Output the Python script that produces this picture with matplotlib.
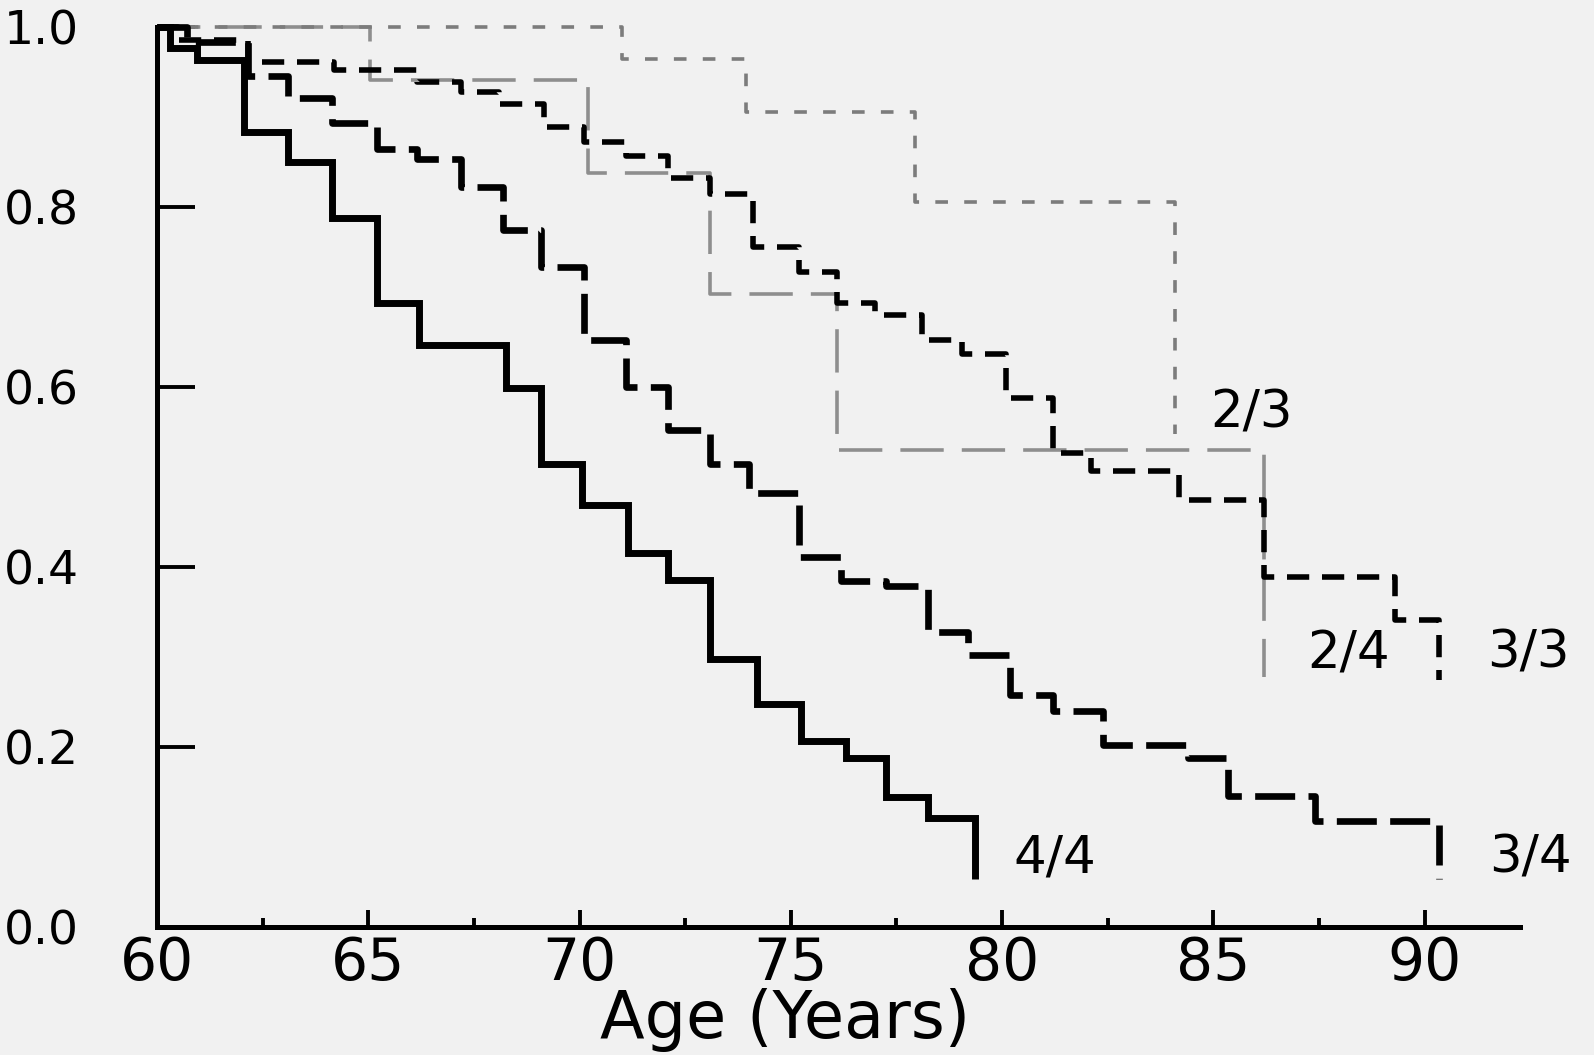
import numpy as np
import matplotlib
matplotlib.use("Agg")
import matplotlib.pyplot as plt
from matplotlib.ticker import MultipleLocator

# survival curves, (age at step, survival after step)
ages_44 = [60, 60.3, 60.95, 62.05, 63.1, 64.15, 65.2, 66.2, 68.25, 69.1, 70.05,
           71.15, 72.1, 73.1, 74.2, 75.25, 76.3, 77.25, 78.25, 79.35]
surv_44 = [1.0, 0.977, 0.963, 0.883, 0.850, 0.788, 0.693, 0.647, 0.599, 0.514, 0.469,
           0.416, 0.386, 0.298, 0.248, 0.207, 0.188, 0.144, 0.121, 0.053]

ages_34 = [60, 60.7, 62.15, 63.1, 64.15, 65.2, 66.15, 67.2, 68.2, 69.1, 70.1, 71.1,
           72.1, 73.1, 74.0, 75.2, 76.2, 77.25, 78.25, 79.2, 80.2, 81.2, 82.4, 84.4,
           85.35, 87.4, 90.35]
surv_34 = [1.0, 0.983, 0.946, 0.921, 0.893, 0.865, 0.853, 0.822, 0.774, 0.733, 0.652,
           0.600, 0.552, 0.515, 0.482, 0.411, 0.385, 0.379, 0.328, 0.302, 0.258, 0.240,
           0.202, 0.188, 0.146, 0.118, 0.053]

ages_33 = [60, 60.5, 62.15, 64.2, 66.15, 67.2, 68.1, 69.15, 70.1, 71.1, 72.1, 73.1,
           74.1, 75.2, 76.1, 77.0, 78.1, 79.05, 80.1, 81.2, 82.1, 84.2, 86.2, 89.3, 90.35]
surv_33 = [1.0, 0.986, 0.961, 0.952, 0.939, 0.928, 0.915, 0.889, 0.872, 0.857, 0.832,
           0.815, 0.756, 0.728, 0.693, 0.680, 0.652, 0.637, 0.588, 0.527, 0.507, 0.474,
           0.389, 0.341, 0.274]

ages_23 = [60, 71.0, 73.95, 77.95, 84.1]
surv_23 = [1.0, 0.965, 0.906, 0.806, 0.548]

ages_24 = [60, 65.05, 70.2, 73.1, 76.1, 86.2]
surv_24 = [1.0, 0.941, 0.838, 0.703, 0.530, 0.278]

# labels: text, x, y
curve_labels = [("2/3", 85.9, 0.570), ("2/4", 88.2, 0.303), ("3/3", 92.45, 0.304),
                ("4/4", 81.25, 0.076), ("3/4", 92.5, 0.076)]

bg = "#f1f1f1"
plt.rcParams['font.family'] = ['DejaVu Sans']

fig = plt.figure(figsize=(15.94, 10.55), dpi=100, facecolor=bg)
ax = fig.add_axes([157 / 1594, 128 / 1055, 1363 / 1594, 900 / 1055], facecolor=bg)

ax.step(ages_24, surv_24, where='post', color='#8e8e8e', lw=2.6,
        linestyle=(0, (12, 5)), clip_on=False, zorder=2)
ax.step(ages_23, surv_23, where='post', color='#7c7c7c', lw=2.6,
        linestyle=(0, (3.5, 4.5)), clip_on=False, zorder=2)
ax.step(ages_33, surv_33, where='post', color='black', lw=4.0,
        linestyle=(0, (4, 2.3)), dash_capstyle='butt', clip_on=False, zorder=3)
ax.step(ages_34, surv_34, where='post', color='black', lw=4.8,
        linestyle=(0, (6, 2.0)), dash_capstyle='butt', clip_on=False, zorder=3)
ax.step(ages_44, surv_44, where='post', color='black', lw=5.0,
        solid_joinstyle='miter', solid_capstyle='butt', clip_on=False, zorder=4)

for txt, x, y in curve_labels:
    ax.text(x, y, txt, fontsize=37, ha='center', va='center')

ax.set_xlim(60, 92.26)
ax.set_ylim(0, 1.0)
for side in ['top', 'right']:
    ax.spines[side].set_visible(False)
for side in ['left', 'bottom']:
    ax.spines[side].set_linewidth(3.6)

ax.xaxis.set_major_locator(MultipleLocator(5))
ax.xaxis.set_minor_locator(MultipleLocator(2.5))
ax.yaxis.set_major_locator(MultipleLocator(0.2))
ax.yaxis.set_major_formatter(matplotlib.ticker.FormatStrFormatter('%.1f'))
ax.set_xticks(np.arange(60, 91, 5))
ax.tick_params(axis='x', which='major', direction='in', length=12, width=2.8,
               labelsize=42, pad=6)
ax.tick_params(axis='x', which='minor', direction='in', length=6.5, width=2.8)
ax.tick_params(axis='y', which='major', direction='in', length=27, width=2.8,
               labelsize=34, pad=56)

ax.set_xlabel('Age (Years)', fontsize=47)
ax.xaxis.label.set_verticalalignment('baseline')
ax.xaxis.set_label_coords(0.4607, -0.1235)

fig.savefig('out.png', dpi=100, facecolor=bg)
